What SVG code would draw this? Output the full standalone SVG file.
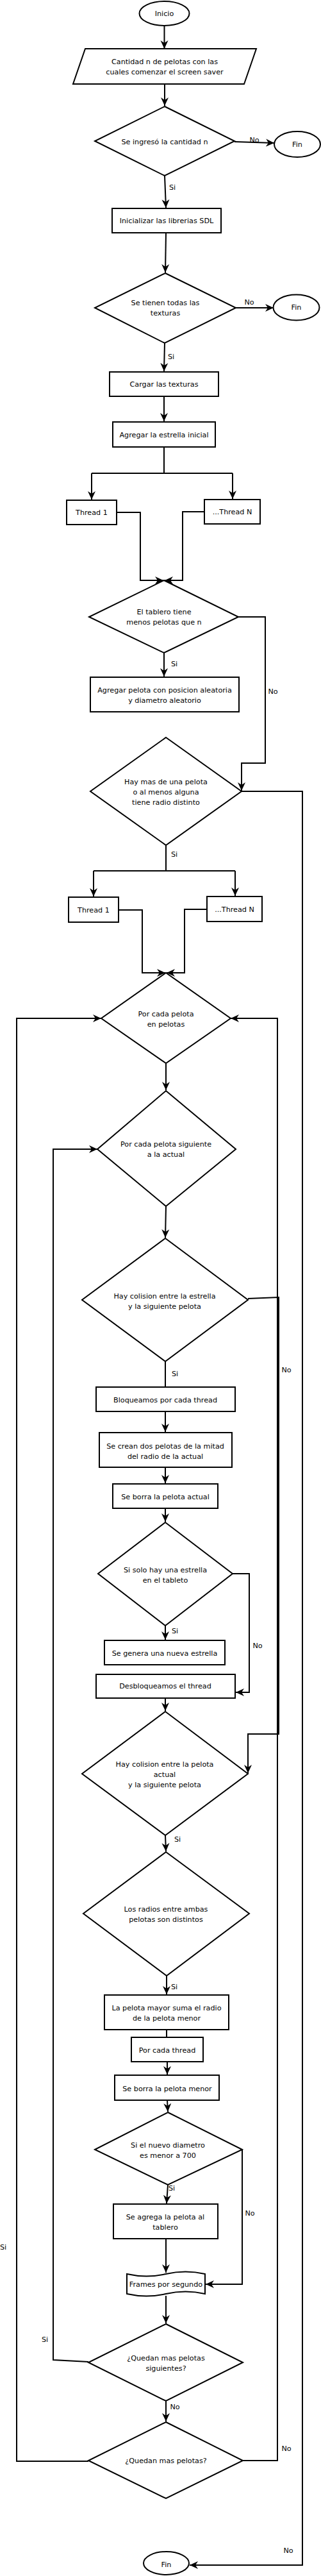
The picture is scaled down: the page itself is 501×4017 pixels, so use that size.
<svg xmlns="http://www.w3.org/2000/svg" width="501" height="4017" viewBox="0 0 501 4017">
<style>
.s{fill:#fff;stroke:#000;stroke-width:2}
.t{font-family:"DejaVu Sans",sans-serif;font-size:11.2px;fill:#000;text-anchor:middle;dominant-baseline:central}
.c{fill:none;stroke:#000;stroke-width:2}
.a{marker-end:url(#ah)}
</style>
<defs>
<marker id="ah" markerUnits="userSpaceOnUse" markerWidth="14" markerHeight="13" refX="13" refY="6.5" orient="auto">
<path d="M0,0.5 L13,6.5 L0,12.5 L4,6.5 Z" fill="#000"/>
</marker>
</defs>
<rect width="501" height="4017" fill="#fff"/>
<g id="connectors">
<path class="c a" d="M256.5,40 V76"/>
<path class="c a" d="M257,131 V165"/>
<path class="c a" d="M366,221 L428,223"/>
<path class="c a" d="M257,274 L259,324"/>
<path class="c a" d="M259,363 L258,425"/>
<path class="c a" d="M368,480 H427"/>
<path class="c a" d="M257,535 L256,579"/>
<path class="c a" d="M256,618 V657"/>
<path class="c" d="M256,697 V738 M143,738 H363"/>
<path class="c a" d="M143,738 V779"/>
<path class="c a" d="M363,738 V778"/>
<path class="c a" d="M182,799 H219 V905 H255"/>
<path class="c a" d="M319,798 H285 V905 H257"/>
<path class="c a" d="M256,1018 V1055"/>
<path class="c a" d="M372,962 H414 V1190 H377 V1233"/>
<path class="c a" d="M377,1234 H472 V4000 H296"/>
<path class="c" d="M259,1318 V1358 M146,1358 H367"/>
<path class="c a" d="M146,1358 V1398"/>
<path class="c a" d="M367,1358 V1397"/>
<path class="c a" d="M185,1419 H222 V1517 H258"/>
<path class="c a" d="M323,1418 H288 V1517 H260"/>
<path class="c a" d="M259,1658 V1700"/>
<path class="c a" d="M259,1881 L258,1930"/>
<path class="c a" d="M387,2025 L435,2023 V2704 H387 V2765"/>
<path class="c" d="M258,2123 V2163"/>
<path class="c a" d="M258,2201 V2233"/>
<path class="c a" d="M258,2288 V2313"/>
<path class="c a" d="M258,2352 V2373"/>
<path class="c a" d="M258,2535 V2557"/>
<path class="c a" d="M363,2454 H389 V2639 H368"/>
<path class="c a" d="M258,2648 V2668"/>
<path class="c a" d="M258,2862 L259,2887"/>
<path class="c a" d="M260,3081 V3110"/>
<path class="c" d="M260,3165 V3177"/>
<path class="c a" d="M261,3215 V3235"/>
<path class="c a" d="M261,3275 L262,3293"/>
<path class="c a" d="M262,3407 L260,3436"/>
<path class="c a" d="M378,3352 V3562 H321"/>
<path class="c a" d="M259,3491 V3544"/>
<path class="c a" d="M259,3580 V3623"/>
<path class="c a" d="M138,3683 L83,3680 V1792 H152"/>
<path class="c a" d="M259,3744 V3776"/>
<path class="c a" d="M138,3838 H26 V1588 H158"/>
<path class="c a" d="M379,3837 H433 V1588 H360"/>
<text class="t" x="397" y="218">No</text>
<text class="t" x="269" y="292">Si</text>
<text class="t" x="389" y="471">No</text>
<text class="t" x="267" y="556">Si</text>
<text class="t" x="272" y="1035">Si</text>
<text class="t" x="426" y="1078">No</text>
<text class="t" x="272" y="1332">Si</text>
<text class="t" x="273" y="2142">Si</text>
<text class="t" x="447" y="2136">No</text>
<text class="t" x="273" y="2543">Si</text>
<text class="t" x="402" y="2566">No</text>
<text class="t" x="277" y="2868">Si</text>
<text class="t" x="272" y="3098">Si</text>
<text class="t" x="268" y="3412">Si</text>
<text class="t" x="390" y="3451">No</text>
<text class="t" x="5" y="3504">Si</text>
<text class="t" x="70" y="3648">Si</text>
<text class="t" x="273" y="3753">No</text>
<text class="t" x="447" y="3818">No</text>
<text class="t" x="450" y="3977">No</text>
</g>
<g id="inicio"><ellipse class="s" cx="256.5" cy="21" rx="39" ry="19"/><text class="t" x="256.5" y="21">Inicio</text></g>
<g id="entrada"><polygon class="s" points="133,76 400,76 381,131 114,131"/><text class="t" x="257" y="96">Cantidad n de pelotas con las</text><text class="t" x="257" y="112">cuales comenzar el screen saver</text></g>
<g id="d1"><polygon class="s" points="257,166 366,220 257,274 148,220"/><text class="t" x="257" y="221">Se ingresó la cantidad n</text></g>
<g id="fin1"><ellipse class="s" cx="464" cy="225" rx="36" ry="20"/><text class="t" x="464" y="225">Fin</text></g>
<g id="init"><rect class="s" x="175" y="325" width="170" height="38"/><text class="t" x="260" y="344">Inicializar las librerias SDL</text></g>
<g id="d2"><polygon class="s" points="258,426 368,480 257,535 148,480"/><text class="t" x="258" y="472">Se tienen todas las</text><text class="t" x="258" y="488">texturas</text></g>
<g id="fin2"><ellipse class="s" cx="462.5" cy="479.5" rx="36" ry="20"/><text class="t" x="462.5" y="479.5">Fin</text></g>
<g id="cargar"><rect class="s" x="171" y="580" width="170" height="38"/><text class="t" x="256" y="599">Cargar las texturas</text></g>
<g id="estrella"><rect class="s" x="176" y="658" width="160" height="39"/><text class="t" x="256" y="678">Agregar la estrella inicial</text></g>
<g id="thread1a"><rect class="s" x="104" y="780" width="78" height="38"/><text class="t" x="143" y="799">Thread 1</text></g>
<g id="threadNa"><rect class="s" x="319" y="779" width="87" height="38"/><text class="t" x="362.5" y="798">...Thread N</text></g>
<g id="d3"><polygon class="s" points="256,905 372,962 256,1018 139,962"/><text class="t" x="256" y="954">El tablero tiene</text><text class="t" x="256" y="970">menos pelotas que n</text></g>
<g id="agregarPelota"><rect class="s" x="141" y="1056" width="232" height="54"/><text class="t" x="257" y="1076">Agregar pelota con posicion aleatoria</text><text class="t" x="257" y="1092">y diametro aleatorio</text></g>
<g id="d4"><polygon class="s" points="259,1150 377,1234 259,1318 141,1234"/><text class="t" x="259" y="1219">Hay mas de una pelota</text><text class="t" x="259" y="1235">o al menos alguna</text><text class="t" x="259" y="1251">tiene radio distinto</text></g>
<g id="thread1b"><rect class="s" x="107" y="1399" width="78" height="39"/><text class="t" x="146" y="1419">Thread 1</text></g>
<g id="threadNb"><rect class="s" x="323" y="1398" width="86" height="39"/><text class="t" x="366" y="1418">...Thread N</text></g>
<g id="d5"><polygon class="s" points="259,1517 360,1588 259,1658 158,1588"/><text class="t" x="259" y="1581">Por cada pelota</text><text class="t" x="259" y="1597">en pelotas</text></g>
<g id="d6"><polygon class="s" points="259,1701 368,1792 259,1881 152,1792"/><text class="t" x="259" y="1784">Por cada pelota siguiente</text><text class="t" x="259" y="1800">a la actual</text></g>
<g id="d7"><polygon class="s" points="258,1931 387,2027 258,2123 128,2027"/><text class="t" x="257" y="2021">Hay colision entre la estrella</text><text class="t" x="257" y="2037">y la siguiente pelota</text></g>
<g id="bloqueamos"><rect class="s" x="150" y="2163" width="217" height="38"/><text class="t" x="258" y="2183">Bloqueamos por cada thread</text></g>
<g id="crean"><rect class="s" x="155" y="2234" width="207" height="54"/><text class="t" x="258" y="2255">Se crean dos pelotas de la mitad</text><text class="t" x="258" y="2271">del radio de la actual</text></g>
<g id="borraActual"><rect class="s" x="176" y="2314" width="164" height="38"/><text class="t" x="258" y="2334">Se borra la pelota actual</text></g>
<g id="d8"><polygon class="s" points="258,2374 363,2454 258,2535 153,2454"/><text class="t" x="258" y="2448">Si solo hay una estrella</text><text class="t" x="258" y="2464">en el tableto</text></g>
<g id="genera"><rect class="s" x="163" y="2558" width="188" height="38"/><text class="t" x="257" y="2578">Se genera una nueva estrella</text></g>
<g id="desbloqueamos"><rect class="s" x="150" y="2611" width="217" height="37"/><text class="t" x="258" y="2629">Desbloqueamos el thread</text></g>
<g id="d9"><polygon class="s" points="258,2669 387,2766 258,2862 128,2766"/><text class="t" x="257" y="2751">Hay colision entre la pelota</text><text class="t" x="257" y="2767">actual</text><text class="t" x="257" y="2783">y la siguiente pelota</text></g>
<g id="d10"><polygon class="s" points="259,2888 389,2984 260,3081 130,2984"/><text class="t" x="259" y="2977">Los radios entre ambas</text><text class="t" x="259" y="2993">pelotas son distintos</text></g>
<g id="suma"><rect class="s" x="163" y="3111" width="194" height="54"/><text class="t" x="260" y="3131">La pelota mayor suma el radio</text><text class="t" x="260" y="3147">de la pelota menor</text></g>
<g id="porThread"><rect class="s" x="205" y="3177" width="112" height="38"/><text class="t" x="261" y="3197">Por cada thread</text></g>
<g id="borraMenor"><rect class="s" x="179" y="3236" width="163" height="39"/><text class="t" x="261" y="3257">Se borra la pelota menor</text></g>
<g id="d11"><polygon class="s" points="262,3294 378,3352 262,3407 148,3352"/><text class="t" x="262" y="3345">Si el nuevo diametro</text><text class="t" x="262" y="3361">es menor a 700</text></g>
<g id="agrega"><rect class="s" x="177" y="3437" width="163" height="54"/><text class="t" x="258" y="3457">Se agrega la pelota al</text><text class="t" x="258" y="3473">tablero</text></g>
<g id="frames"><path class="s" d="M198,3546 Q228.5,3553 259,3546 Q289.5,3539 320,3546 V3577 Q289.5,3570 259,3577 Q228.5,3584 198,3577 Z"/><text class="t" x="259" y="3562">Frames por segundo</text></g>
<g id="d12"><polygon class="s" points="259,3624 379,3684 259,3744 138,3684"/><text class="t" x="259" y="3677">¿Quedan mas pelotas</text><text class="t" x="259" y="3693">siguientes?</text></g>
<g id="d13"><polygon class="s" points="259,3777 379,3837 259,3896 138,3837"/><text class="t" x="259" y="3837">¿Quedan mas pelotas?</text></g>
<g id="fin3"><ellipse class="s" cx="259.5" cy="3997" rx="35.5" ry="18"/><text class="t" x="259.5" y="3999">Fin</text></g>
</svg>
